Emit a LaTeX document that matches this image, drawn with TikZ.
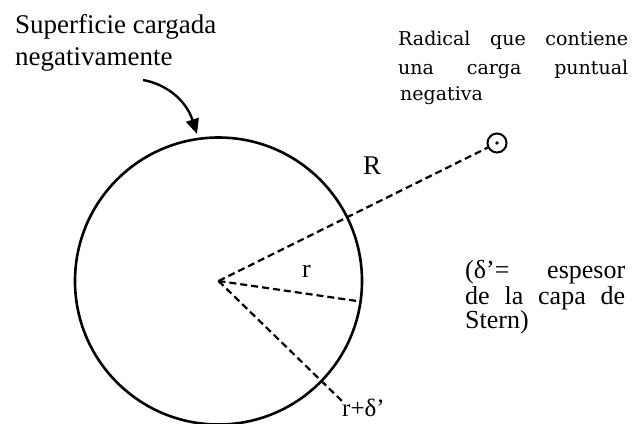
\documentclass[tikz,border=0pt]{standalone}
\usepackage{fontspec}
\setmainfont{Liberation Serif}
\newfontfamily\dejaserif{DejaVu Serif}
\usetikzlibrary{arrows.meta}
\tikzset{
  lbl/.style={inner sep=0pt, anchor=base west, font=\fontsize{26}{30}\selectfont},
  small/.style={inner sep=0pt, anchor=base west, font=\dejaserif\fontsize{19}{22}\selectfont},
  rad/.style={dash pattern=on 7pt off 4pt, line width=2.2pt},
  rim/.style={line width=2.6pt},
}
\begin{document}
\begin{tikzpicture}[x=1pt,y=-1pt]
\useasboundingbox (0,0) rectangle (636,423);
% sphere
\coordinate (c) at (218.5,281);
\draw[rim] (c) circle[radius=143.5];
% point charge
\node[draw, circle, line width=2pt, minimum size=19pt, inner sep=0pt] (q) at (497,143) {};
\fill (q.center) circle[radius=1.8pt];
\coordinate (rend) at (357,301);
\coordinate (dend) at (343,402);
\draw[rad] (c) -- (q);
\draw[rad] (c) -- (rend);
\draw[rad] (c) -- (dend);
% arrow
\coordinate (as) at (143,80);
\coordinate (at) at (197,134);
\draw[line width=2.4pt, -{Triangle[length=15pt,width=13pt]}] (as) .. controls (166,84) and (186,100) .. (at);
% labels
\node[lbl, font=\fontsize{27}{30}\selectfont] (t1) at (15,33) {Superficie cargada};
\node[lbl, font=\fontsize{27}{30}\selectfont] (t2) at (15,65) {negativamente};
\node[small] (s1) at (398,45) {\makebox[230pt][s]{Radical que contiene}};
\node[small] (s2) at (398,74) {\makebox[230pt][s]{una carga puntual}};
\node[small] (s3) at (400,100) {negativa};
\node[lbl, font=\fontsize{27}{30}\selectfont] (R) at (363,174) {R};
\node[lbl] (r) at (302,277) {r};
\node[lbl, font=\fontsize{25}{28}\selectfont] (rd) at (342,416) {r+δ’};
\node[lbl] (d1) at (465,278) {\makebox[160pt][s]{(δ’= espesor}};
\node[lbl] (d2) at (465,304) {\makebox[160pt][s]{de la capa de}};
\node[lbl] (d3) at (465,328) {Stern)};
\end{tikzpicture}
\end{document}
